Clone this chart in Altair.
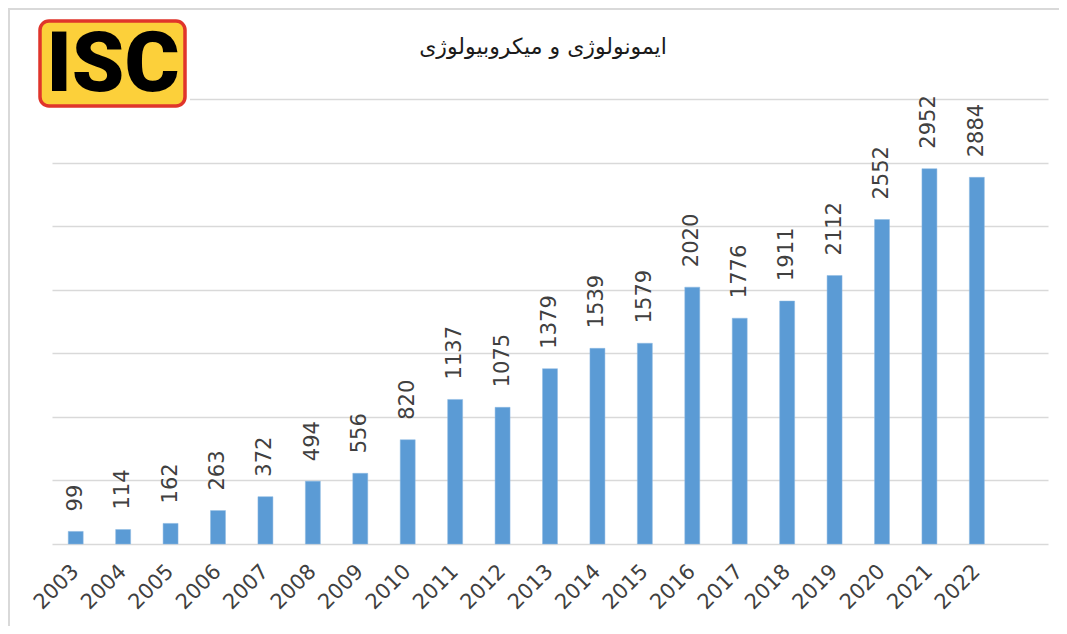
import altair as alt
import pandas as pd

years = [str(y) for y in range(2003, 2023)]
values = [99, 114, 162, 263, 372, 494, 556, 820, 1137, 1075,
          1379, 1539, 1579, 2020, 1776, 1911, 2112, 2552, 2952, 2884]
title_text = "ایمونولوژی و میکروبیولوژی"
logo_text = "ISC"
grid_values = [0, 500, 1000, 1500, 2000, 2500, 3000, 3500]

df = pd.DataFrame({"year": years, "value": values})
x_domain = years + [" "]

W, H = 996, 445
PL, PT = 44, 91

x_enc = alt.X("year:N", scale=alt.Scale(domain=x_domain, paddingInner=0.684, paddingOuter=0.342),
              axis=alt.Axis(title=None, labelAngle=-45, labelAlign="right", labelBaseline="middle",
                            labelPadding=24, ticks=False, domain=False, labelFontSize=21,
                            labelFont="DejaVu Sans", labelColor="#404040", grid=False))
y_enc = alt.Y("value:Q", scale=alt.Scale(domain=[0, 3500], nice=False),
              axis=alt.Axis(title=None, values=grid_values, labels=False, ticks=False, domain=False,
                            grid=True, gridColor="#d9d9d9", gridWidth=1.5))

base = alt.Chart(df)
bars = base.mark_bar(color="#5b9bd5", stroke="#8fbbe3", strokeWidth=0.5).encode(x=x_enc, y=y_enc)
labels = base.mark_text(angle=270, align="left", baseline="middle", dx=20, fontSize=21,
                        font="DejaVu Sans", color="#404040").encode(
    x=alt.X("year:N", scale=alt.Scale(domain=x_domain)), y="value:Q", text="value:Q")

one = alt.Chart(pd.DataFrame({"t": [title_text], "l": [logo_text]}))
border = one.mark_rect(fill=None, stroke="#d9d9d9", strokeWidth=2).encode(
    x=alt.value(-PL + 1), x2=alt.value(W + 60), y=alt.value(-PT + 1), y2=alt.value(H + 200))
white = one.mark_rect(fill="white").encode(
    x=alt.value(-19), x2=alt.value(138), y=alt.value(-85), y2=alt.value(13))
logo_box = one.mark_rect(fill="#fcd03a", stroke="#e0352b", strokeWidth=3.5, cornerRadius=9).encode(
    x=alt.value(-12), x2=alt.value(133), y=alt.value(-78), y2=alt.value(7))
logo_txt = one.mark_text(font="Roboto", fontWeight=900, fontSize=84, color="black",
                         align="center", baseline="middle").encode(
    x=alt.value(61), y=alt.value(-33), text="l:N")
title = one.mark_text(font="DejaVu Sans", fontSize=22, color="#1a1a1a",
                      align="center", baseline="middle").encode(
    x=alt.value(491), y=alt.value(-52), text="t:N")

chart = alt.layer(bars, labels, border, white, logo_box, logo_txt, title).properties(
    width=W, height=H, autosize="none",
    padding={"left": PL, "top": PT, "right": 11, "bottom": 82}
).configure_view(stroke=None)

chart.save("out.html", embed_options={"renderer": "svg", "actions": False})
